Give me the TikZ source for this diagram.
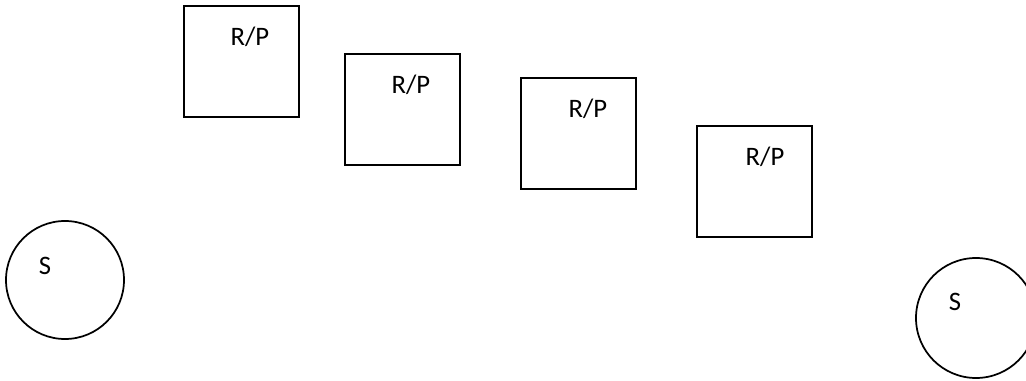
\documentclass[tikz,border=0pt]{standalone}
\usepackage{fontspec}
\setmainfont{Carlito}
\begin{document}
\begin{tikzpicture}[x=0.75pt,y=-0.75pt,
  rpbox/.style={draw,line width=1.3pt,minimum width=115*0.75pt,minimum height=111*0.75pt,inner sep=0pt,anchor=north west},
  station/.style={draw,line width=1.3pt,circle,minimum size=118*0.75pt,inner sep=0pt},
  lbl/.style={font=\fontsize{20}{22}\selectfont,inner sep=0pt}]
\useasboundingbox (0,0) rectangle (1026,381);
\node[rpbox] (b1) at (183,5) {};
\node[rpbox] (b2) at (344,53) {};
\node[rpbox] (b3) at (520,77) {};
\node[rpbox] (b4) at (696,125) {};
\node[lbl] (t1) at (250,37) {R/P};
\node[lbl] (t2) at (411,85) {R/P};
\node[lbl] (t3) at (588,109) {R/P};
\node[lbl] (t4) at (765,157) {R/P};
\node[station] (s1) at (65,280) {};
\node[station,minimum size=120*0.75pt] (s2) at (976,318) {};
\node[lbl] (u1) at (45,266) {S};
\node[lbl] (u2) at (955,302) {S};
\end{tikzpicture}
\end{document}
